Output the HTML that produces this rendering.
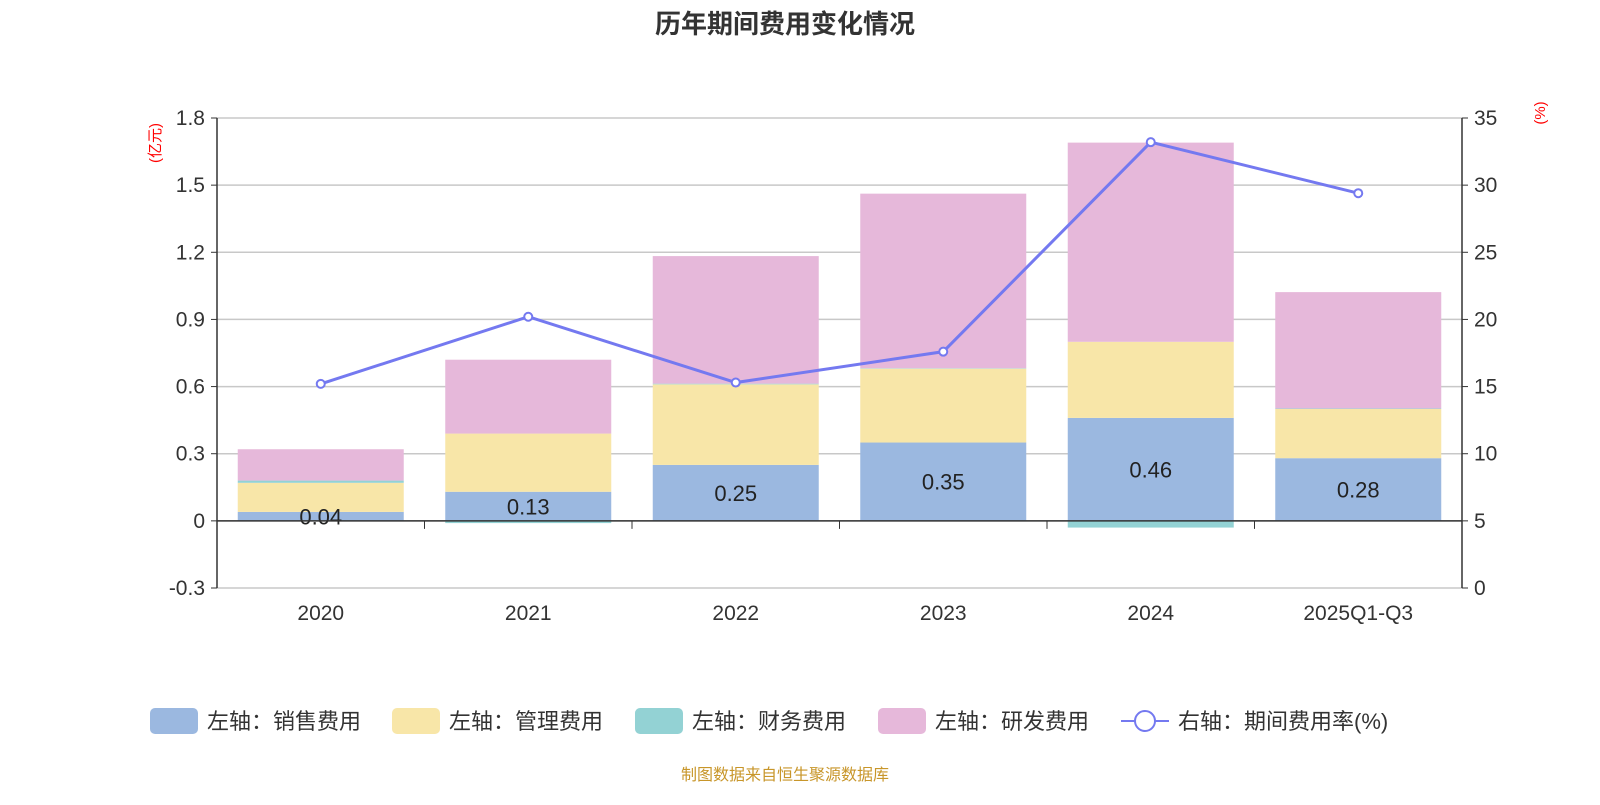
<!DOCTYPE html>
<html><head><meta charset="utf-8"><style>
body{margin:0;background:#fff;font-family:"Liberation Sans","Noto Sans CJK SC",sans-serif}
</style></head><body>
<svg id="chart" width="1600" height="800" xmlns="http://www.w3.org/2000/svg" font-family="Liberation Sans, Noto Sans CJK SC, sans-serif">
<text x="785" y="33" text-anchor="middle" font-size="26" font-weight="bold" fill="#333">历年期间费用变化情况</text>
<text transform="translate(160,143) rotate(-90)" text-anchor="middle" font-size="15" fill="red">(亿元)</text>
<text transform="translate(1545,113) rotate(-90)" text-anchor="middle" font-size="15" fill="red">(%)</text>
<g id="grid"></g><g id="bars"></g><g id="axes"></g><g id="line"></g>
<g id="legend" font-size="22" fill="#333">
 <g><rect x="150" y="708" width="48" height="26" rx="5" fill="#9bb8e0"/><text x="207" y="729">左轴：销售费用</text></g>
 <g><rect x="392" y="708" width="48" height="26" rx="5" fill="#f8e6a8"/><text x="449" y="729">左轴：管理费用</text></g>
 <g><rect x="635" y="708" width="48" height="26" rx="5" fill="#93d2d4"/><text x="692" y="729">左轴：财务费用</text></g>
 <g><rect x="878" y="708" width="48" height="26" rx="5" fill="#e6b8da"/><text x="935" y="729">左轴：研发费用</text></g>
 <g><line x1="1121" y1="721" x2="1169" y2="721" stroke="#7479f0" stroke-width="2"/><circle cx="1145" cy="721" r="10" fill="#fff" stroke="#7479f0" stroke-width="2"/><text x="1178" y="729">右轴：期间费用率(%)</text></g>
</g>
<text x="785" y="780" text-anchor="middle" font-size="16" fill="#c8962a">制图数据来自恒生聚源数据库</text>
</svg>
<script>
const categories=["2020","2021","2022","2023","2024","2025Q1-Q3"];
const sales=[0.04,0.13,0.25,0.35,0.46,0.28];
const admin=[0.13,0.26,0.36,0.33,0.34,0.22];
const finance=[0.01,-0.01,0.003,0.002,-0.03,0.002];
const rd=[0.14,0.33,0.57,0.78,0.89,0.52];
const rate=[15.2,20.2,15.3,17.6,33.2,29.4];
const leftTicks=[-0.3,0,0.3,0.6,0.9,1.2,1.5,1.8];
const rightTicks=[0,5,10,15,20,25,30,35];
const NS="http://www.w3.org/2000/svg";
const X0=217,X1=1462,YT=118,YB=588;
const yL=v=>YT+(1.8-v)/2.1*(YB-YT);
const yR=v=>YB-v/35*(YB-YT);
const bw=(X1-X0)/categories.length;
const xC=i=>X0+bw*(i+0.5);
function mk(tag,attrs,parent){const e=document.createElementNS(NS,tag);for(const k in attrs)e.setAttribute(k,attrs[k]);document.getElementById(parent).appendChild(e);return e;}
leftTicks.forEach((t,i)=>{
 const g=mk('line',{x1:X0,x2:X1,y1:yL(t),y2:yL(t),stroke:'#c8c8c8','stroke-width':1.5},'grid');
 
 
 const l=mk('text',{x:X0-12,y:yL(t)+7,'text-anchor':'end','font-size':21,fill:'#333'},'axes');l.textContent=t===0?'0':t.toFixed(1);
 
 
 mk('line',{x1:X0-6,x2:X0,y1:yL(t),y2:yL(t),stroke:'#333'},'axes');
});
rightTicks.forEach(t=>{
 const l=mk('text',{x:X1+12,y:yR(t)+7,'font-size':21,fill:'#333'},'axes');l.textContent=t;
 
 
 mk('line',{x1:X1,x2:X1+6,y1:yR(t),y2:yR(t),stroke:'#333'},'axes');
});
mk('line',{x1:X0,x2:X0,y1:YT,y2:YB,stroke:'#333','stroke-width':1.5},'axes');
mk('line',{x1:X1,x2:X1,y1:YT,y2:YB,stroke:'#333','stroke-width':1.5},'axes');
const series=[[sales,'#9bb8e0','sales'],[admin,'#f8e6a8','admin'],[finance,'#93d2d4','finance'],[rd,'#e6b8da','rd']];
const bwid=bw*0.8;
categories.forEach((c,i)=>{
 let pos=0,neg=0;
 series.forEach(([arr,col,nm])=>{
  const v=arr[i];let a,b;
  if(v>=0){a=pos;b=pos+v;pos=b;}else{a=neg;b=neg+v;neg=b;}
  const r=mk('rect',{x:xC(i)-bwid/2,width:bwid,y:Math.min(yL(a),yL(b)),height:Math.abs(yL(a)-yL(b)),fill:col},'bars');
  
  
 });
 const t=mk('text',{x:xC(i),y:(yL(0)+yL(sales[i]))/2+8,'text-anchor':'middle','font-size':22,fill:'#222'},'bars');t.textContent=sales[i].toFixed(2);
 
 
 const xl=mk('text',{x:xC(i),y:620,'text-anchor':'middle','font-size':21,fill:'#333'},'axes');xl.textContent=c;
 
 
 if(i>0)mk('line',{x1:X0+bw*i,x2:X0+bw*i,y1:yL(0),y2:yL(0)+8,stroke:'#333'},'axes');
});
mk('line',{x1:X0,x2:X1,y1:yL(0),y2:yL(0),stroke:'#333','stroke-width':1.5},'axes');
const pts=rate.map((v,i)=>xC(i)+','+yR(v)).join(' ');
const pl=mk('polyline',{points:pts,fill:'none',stroke:'#7479f0','stroke-width':3},'line');


rate.forEach((v,i)=>{
 const p=mk('circle',{cx:xC(i),cy:yR(v),r:4,fill:'#fff',stroke:'#7479f0','stroke-width':2},'line');
 
 
});
</script>
</body></html>
